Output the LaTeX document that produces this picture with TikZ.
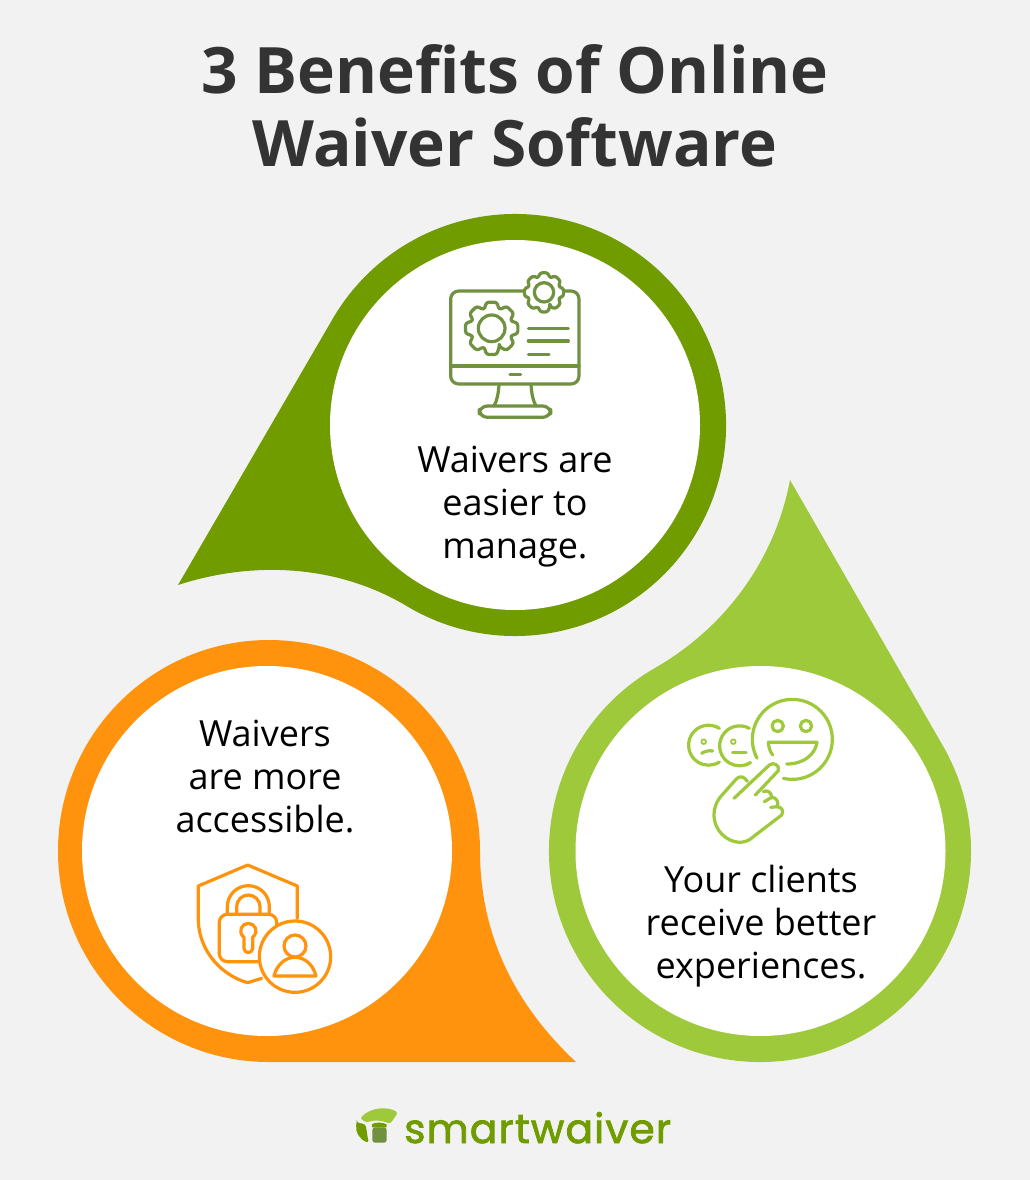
\documentclass[tikz,border=0pt]{standalone}
\usepackage{fontspec}
\setmainfont{Open Sans}
\newfontfamily\logofont[FakeBold=2,LetterSpace=3]{Poppins}
\definecolor{bgc}{HTML}{F2F2F2}
\definecolor{titlec}{HTML}{333333}
\definecolor{darkg}{HTML}{719C00}
\definecolor{lightg}{HTML}{9DC93B}
\definecolor{orangec}{HTML}{FF930D}
\definecolor{iconc}{HTML}{6F9140}
\tikzset{
  ring/.style={fill=white,draw=none},
  bodytext/.style={align=center,text=black,inner sep=0pt,font=\fontsize{27}{32.25}\selectfont},
  iconline/.style={line width=2.4pt,line cap=round,line join=round,fill=none},
  iconthin/.style={line width=1.3pt,line cap=round,line join=round,fill=none}
}
\newcommand{\gearpath}[2]{% outer, root
  \draw[iconline,draw=iconc,rounded corners=1.8pt]
    (90-22.5:#2)
    \foreach \k in {0,...,7}{
      -- ({90+45*\k-22.5}:#2) -- ({90+45*\k-11}:#1) -- ({90+45*\k+11}:#1)
    } -- cycle;
}
\begin{document}
\begin{tikzpicture}[x=0.75pt,y=-0.75pt]
\useasboundingbox (0,0) rectangle (1030,1180);
\fill[bgc] (0,0) rectangle (1030,1180);

\node[text=titlec,align=center,inner sep=0pt,font=\fontsize{48}{54.7}\selectfont\bfseries] (title) at (515,106) {3 Benefits of Online\\Waiver Software};

% drops
\fill[darkg] (178,585) -- (332.3,319.5) arc[start angle=210,end angle=480,radius=211]
  .. controls (340,565) and (255,560) .. (178,585) -- cycle;
\fill[lightg] (790,480) -- (942.7,745.5) arc[start angle=-30,end angle=240,radius=211]
  .. controls (725,628) and (775,560) .. (790,480) -- cycle;
\fill[orangec] (576,1062) -- (269,1062) arc[start angle=90,end angle=360,radius=211]
  .. controls (480,935) and (515,1005) .. (576,1062) -- cycle;

\fill[ring] (515,425) circle[radius=185];
\fill[ring] (760.5,851) circle[radius=185];
\fill[ring] (267,851) circle[radius=185];

\node[bodytext] (t1) at (515,507) {Waivers are\\easier to\\manage.};
\node[bodytext] (t2) at (761,926) {Your clients\\receive better\\experiences.};
\node[bodytext] (t3) at (265,777) {Waivers\\are more\\accessible.};

% monitor icon (zoom coordinates)
\begin{scope}[shift={(430,260)},x=0.25pt,y=-0.25pt,iconline,draw=iconc]
  \draw[rounded corners=6pt] (280,93) -- (62,93) -- (62,372) -- (447,372) -- (447,93) -- (405,93);
  \draw (62,318) -- (447,318);
  \draw (240,343) -- (272,343);
  \draw (207,374) .. controls (205,400) and (202,420) .. (192,438);
  \draw (303,374) .. controls (305,400) and (308,420) .. (318,438);
  \draw[rounded corners=6pt] (148,438) rectangle (362,472);
  \draw (295,205) -- (415,205);
  \draw (295,243) -- (415,243);
  \draw (295,283) -- (357,283);
  \draw (185,205) circle[radius=40];
  \draw (342,97) circle[radius=29];
  \begin{scope}[shift={(185,205)}]\gearpath{80}{60}\end{scope}
  \begin{scope}[shift={(342,97)}]\gearpath{60}{46}\end{scope}
\end{scope}

% faces icon
\begin{scope}[shift={(670,690)},x=0.25pt,y=-0.25pt,iconline,draw=lightg]
  \draw (340,265) arc[start angle=103,end angle=-208,radius=120];
  \draw (323,108) circle[radius=17];
  \draw (408,108) circle[radius=17];
  \draw (350,222) .. controls (400,222) and (435,195) .. (441,157) -- (295,157) .. controls (296,172) and (300,185) .. (308,195);
  \draw (238,115) arc[start angle=-61,end angle=-303,radius=60];
  \draw (148,115) arc[start angle=-57.5,end angle=-302.5,radius=60];
  \draw[iconthin] (101,155) circle[radius=7];
  \draw[iconthin] (190,155) circle[radius=7];
  \draw (95,190) .. controls (105,183) and (118,181) .. (128,183);
  \draw (188,188) -- (228,188);
  \draw (192,325) -- (298,225) .. controls (310,215) and (330,225) .. (325,242) -- (256,315);
  \draw (232,274) .. controls (222,258) and (208,256) .. (198,268) -- (150,322)
     .. controls (125,355) and (125,400) .. (155,432) .. controls (185,462) and (225,465) .. (250,440) -- (335,375)
     .. controls (342,362) and (335,352) .. (322,350);
  \draw (280,305) .. controls (292,298) and (305,308) .. (305,322);
  \draw (305,322) .. controls (318,322) and (328,335) .. (322,350);
  \draw (283,335) -- (305,322);
  \draw (302,352) -- (322,350);
\end{scope}

% lock icon
\begin{scope}[shift={(180,850)},x=0.25pt,y=-0.25pt,iconline,draw=orangec]
  \draw (352,205) -- (352,108) -- (203,45) -- (55,108) -- (55,215)
     .. controls (60,310) and (130,378) .. (203,398) -- (245,385);
  \draw[rounded corners=6pt] (235,335) -- (118,335) -- (118,193) -- (290,193) -- (290,225);
  \draw (142,193) -- (142,170) arc[start angle=180,end angle=360,radius=63] -- (268,193);
  \draw (170,193) -- (170,170) arc[start angle=180,end angle=360,radius=35] -- (240,193);
  \draw (192,262) .. controls (172,245) and (185,220) .. (205,220) .. controls (225,220) and (238,245) .. (218,262) -- (218,295) arc[start angle=0,end angle=180,radius=13] -- cycle;
  \draw (345,320) circle[radius=107];
  \draw (345,288) circle[radius=33];
  \draw (282,378) -- (408,378) .. controls (400,345) and (375,322) .. (345,322) .. controls (315,322) and (290,345) .. (282,378) -- cycle;
\end{scope}

% logo
\begin{scope}[shift={(340,1090)},x=0.25pt,y=-0.25pt]
  \fill[lightg,rounded corners=2pt] (60,85) .. controls (95,50) and (145,50) .. (174,68) -- (150,102) .. controls (125,90) and (100,90) .. (80,98) -- cycle;
  \fill[darkg,rounded corners=2pt] (50,98) -- (76,102) .. controls (80,120) and (82,140) .. (87,158) .. controls (60,150) and (45,125) .. (50,98) -- cycle;
  \fill[darkg] (96,102) .. controls (110,96) and (125,96) .. (140,103) -- (140,112) -- (96,112) -- cycle;
  \fill[iconc,rounded corners=2pt] (97,112) rectangle (140,158);
\end{scope}
\node[text=darkg,inner sep=0pt,anchor=base west,font=\logofont\fontsize{30.5}{32}\selectfont] (logo) at (404,1143) {smartwaiver};
\end{tikzpicture}
\end{document}
